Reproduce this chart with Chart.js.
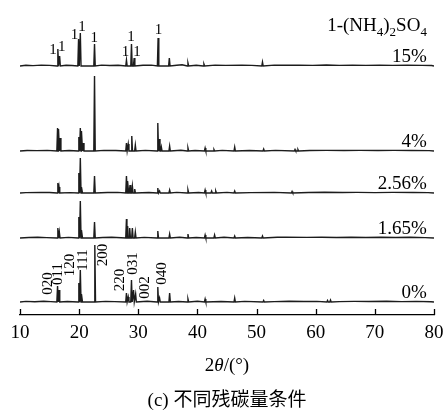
<!DOCTYPE html>
<html><head><meta charset="utf-8">
<script src="https://cdn.jsdelivr.net/npm/chart.js@4/dist/chart.umd.min.js"></script>
<style>html,body{margin:0;padding:0;background:#fff}#wrap{width:444px;height:414px;position:relative}</style>
</head><body><div id="wrap"><canvas id="c" width="444" height="414"></canvas></div>
<script>
// ---- data (2θ in degrees, relative intensity in arbitrary units) ----
const sampleNames = ['0%', '1.65%', '2.56%', '4%', '15%'];
const offsets = [13, 77, 122, 164, 249];           // vertical stacking offset of each pattern
const xTicks = [10, 20, 30, 40, 50, 60, 70, 80];

const peaks0 = [[16.35,16],[16.6,12],[19.95,19],[20.2,32],[20.45,8],[22.65,57],[28.0,9],[28.3,5],[28.85,22],[29.2,12],[29.55,8],[33.3,15],[33.6,4],[35.3,9],[38.4,3],[41.3,3],[46.3,4],[51.2,1.5],[62.0,1.5],[62.5,2]];
const peaks165 = [[16.4,10],[16.65,6],[19.95,21],[20.2,37],[20.45,8],[22.6,16],[28.0,19],[28.2,12],[28.55,10],[29.0,10],[29.5,6],[33.3,7],[35.3,4],[38.4,4],[41.3,3],[42.9,3],[46.3,2],[51.0,2]];
const peaks256 = [[16.4,10],[16.6,6],[19.95,20],[20.2,35],[20.45,6],[22.6,17],[28.0,17],[28.25,12],[28.6,8],[29.0,7],[29.4,4],[33.3,5],[33.6,2],[35.3,3],[38.4,3],[41.3,3],[42.4,2],[43.1,2],[46.3,2],[56.0,1.5]];
const peaks4 = [[16.35,23],[16.55,22],[16.8,13],[19.95,14],[20.2,23],[20.45,20],[20.7,8],[22.6,75],[28.0,8],[28.3,7],[28.9,15],[29.5,6],[33.3,28],[33.55,12],[33.9,4],[35.3,5],[38.4,3],[41.3,3],[42.8,1.5],[46.3,4],[51.2,2],[56.5,1.5],[57.0,1.5]];
const peaks15 = [[16.4,17],[16.7,10],[19.9,27],[20.2,33],[22.6,22],[28.0,6],[28.85,22],[29.3,8],[33.35,28],[35.25,8],[38.4,3],[41.1,2],[51.0,4]];

const noise0 = [[11,0.6],[12.5,0.3],[14,0.8],[15.2,0.4],[18,0.5],[24.5,0.6],[26,0.4],[31.5,0.7],[36.8,0.5],[40,0.8],[44,0.5],[48,0.6],[53,0.4],[55.5,0.7],[58,0.5],[60.2,0.6],[64,0.4],[66.5,0.6],[69,0.5],[72,0.7],[74.5,0.4],[77,0.6],[79.5,0.3]];
const noise165 = [[11.5,0.5],[13,0.7],[14.5,0.4],[18.2,0.6],[24,0.5],[25.5,0.8],[31,0.6],[37,0.7],[39.8,0.5],[44.5,0.8],[48.5,0.5],[53.5,0.7],[55,0.9],[58.5,0.6],[61,0.8],[63.5,0.5],[66,0.7],[68.5,0.5],[71,0.8],[73.5,0.5],[76,0.7],[78.5,0.4]];
const noise256 = [[11,0.4],[13.5,0.6],[15,0.5],[18.5,0.4],[24.8,0.5],[26.5,0.6],[31.8,0.5],[36.5,0.6],[40.2,0.5],[45,0.6],[49,0.4],[53,0.6],[58.8,0.5],[61.5,0.7],[64.5,0.5],[67,0.6],[70,0.4],[73,0.6],[76.5,0.5],[79,0.4]];
const noise4 = [[11.2,0.5],[12.8,0.4],[14.6,0.6],[18.3,0.5],[24.2,0.6],[26.2,0.5],[31.2,0.6],[37.2,0.7],[39.6,0.5],[44.2,0.6],[48.8,0.5],[53.2,0.6],[59,0.5],[61.8,0.6],[64.8,0.5],[67.5,0.6],[70.5,0.5],[73.2,0.6],[76.2,0.5],[79.2,0.4]];
const noise15 = [[11,0.7],[12.2,0.4],[13.6,0.9],[15,0.6],[17.8,0.8],[18.8,0.5],[23.8,0.9],[25.2,0.5],[26.6,0.8],[30.8,0.7],[32.2,0.9],[36.5,0.8],[37.4,1.2],[39.8,0.7],[43,0.9],[44.8,0.6],[47.5,0.8],[49.2,0.6],[53,0.9],[55,0.7],[57.2,0.8],[59.5,0.6],[61.8,1],[64,0.6],[66.2,0.8],[68.5,0.6],[70.8,0.9],[73,0.6],[75.5,0.8],[78,0.6],[79.6,0.5]];

const peakTables = [peaks0, peaks165, peaks256, peaks4, peaks15];
const noiseTables = [noise0, noise165, noise256, noise4, noise15];

// phase mark "1" labels on the 15% pattern: [2θ, intensity level]
const phaseMarks = [[15.57,265],[17.07,268],[19.2,280],[20.48,288],[22.54,277],[27.84,263],[28.78,278],[29.78,263],[33.41,285]];
const phaseMarkText = '1';
// hkl labels on the 0% pattern: [label, 2θ, intensity level]
const hklLabels = [['020',14.7,31.5],['011',16.5,41],['120',18.5,50],['111',20.7,55],['200',24.0,60],['220',26.9,35],['031',29.1,51.5],['002',31.1,27.5],['040',34.0,41.5]];

// ---- build datasets ----
const HALF = 0.12;
function buildSeries(i) {
  const pts = [];
  pts.push({x: 10, y: offsets[i]});
  pts.push({x: 80, y: offsets[i]});
  for (const [p, h] of peakTables[i]) {
    pts.push({x: p - HALF, y: offsets[i]});
    pts.push({x: p, y: offsets[i] + h});
    pts.push({x: p + HALF, y: offsets[i]});
  }
  for (const [p, h] of noiseTables[i]) pts.push({x: p, y: offsets[i] + h});
  pts.sort((a, b) => a.x - b.x);
  return pts;
}

const SERIF = '"Liberation Serif", "Times New Roman", serif';

const annot = {
  id: 'annot',
  afterDraw(chart) {
    const {ctx, chartArea} = chart;
    const xs = chart.scales.x, ys = chart.scales.y;
    ctx.save();
    ctx.fillStyle = '#000';
    ctx.strokeStyle = '#000';
    // inward tick marks
    ctx.lineWidth = 1.3;
    for (const t of xTicks) {
      const px = Math.round(xs.getPixelForValue(t)) + 0.5;
      ctx.beginPath();
      ctx.moveTo(px, chartArea.bottom);
      ctx.lineTo(px, chartArea.bottom - 6);
      ctx.stroke();
    }
    // sample labels
    ctx.font = '19px ' + SERIF;
    ctx.textAlign = 'right';
    ctx.textBaseline = 'alphabetic';
    const rx = xs.getPixelForValue(78.8);
    sampleNames.forEach((n, i) => {
      ctx.fillText(n, rx, ys.getPixelForValue(offsets[i]) - 4);
    });
    // legend text 1-(NH4)2SO4
    const parts = [['1-(NH', 19, 0], ['4', 13, 5], [')', 19, 0], ['2', 13, 5], ['SO', 19, 0], ['4', 13, 5]];
    let total = 0;
    for (const [s, sz] of parts) { ctx.font = sz + 'px ' + SERIF; total += ctx.measureText(s).width; }
    let cx = rx - total;
    const by = 31;
    ctx.textAlign = 'left';
    for (const [s, sz, dy] of parts) {
      ctx.font = sz + 'px ' + SERIF;
      ctx.fillText(s, cx, by + dy);
      cx += ctx.measureText(s).width;
    }
    // phase marks
    ctx.font = '15px ' + SERIF;
    ctx.textAlign = 'center';
    ctx.textBaseline = 'middle';
    for (const [p, lv] of phaseMarks) {
      ctx.fillText(phaseMarkText, xs.getPixelForValue(p), ys.getPixelForValue(lv));
    }
    // hkl labels (rotated)
    for (const [lab, p, lv] of hklLabels) {
      ctx.save();
      ctx.translate(xs.getPixelForValue(p), ys.getPixelForValue(lv));
      ctx.rotate(-Math.PI / 2);
      ctx.fillText(lab, 0, 0);
      ctx.restore();
    }
    // axis title 2θ/(°)
    const ty = 366;
    const tParts = [['2', ''], ['θ', 'italic '], ['/(°)', '']];
    let tw = 0;
    for (const [s, st] of tParts) { ctx.font = st + '19px ' + SERIF; tw += ctx.measureText(s).width; }
    let tx = (chartArea.left + chartArea.right) / 2 - tw / 2;
    ctx.textAlign = 'left';
    for (const [s, st] of tParts) {
      ctx.font = st + '19px ' + SERIF;
      ctx.fillText(s, tx, ty);
      tx += ctx.measureText(s).width;
    }
    // caption
    ctx.textAlign = 'center';
    ctx.font = '19px ' + SERIF + ', "Noto Sans CJK SC"';
    ctx.fillText('(c) 不同残碳量条件', (chartArea.left + chartArea.right) / 2, 401);
    ctx.restore();
  }
};

new Chart(document.getElementById('c').getContext('2d'), {
  type: 'line',
  data: {
    datasets: sampleNames.map((n, i) => ({
      label: n,
      data: buildSeries(i),
      borderColor: '#1c1c1c',
      borderWidth: 1.4,
      pointRadius: 0,
      tension: 0,
      fill: false
    }))
  },
  options: {
    animation: false,
    responsive: false,
    devicePixelRatio: 1,
    layout: {padding: {left: 20, right: 10, top: 0, bottom: 0}},
    plugins: {legend: {display: false}, title: {display: false}, tooltip: {enabled: false}},
    scales: {
      x: {
        type: 'linear', min: 10, max: 80,
        afterBuildTicks(s) { s.ticks = xTicks.map(v => ({value: v})); },
        ticks: {font: {family: SERIF, size: 19}, color: '#000', padding: 7, maxRotation: 0, autoSkip: false},
        grid: {display: true, drawOnChartArea: false, drawTicks: false},
        border: {display: true, color: '#000', width: 1.3},
        afterFit(s) { s.height = 99; s.paddingLeft = 0; s.paddingRight = 0; }
      },
      y: {display: false, min: 0, max: 315}
    }
  },
  plugins: [annot]
});
</script>
</body></html>
